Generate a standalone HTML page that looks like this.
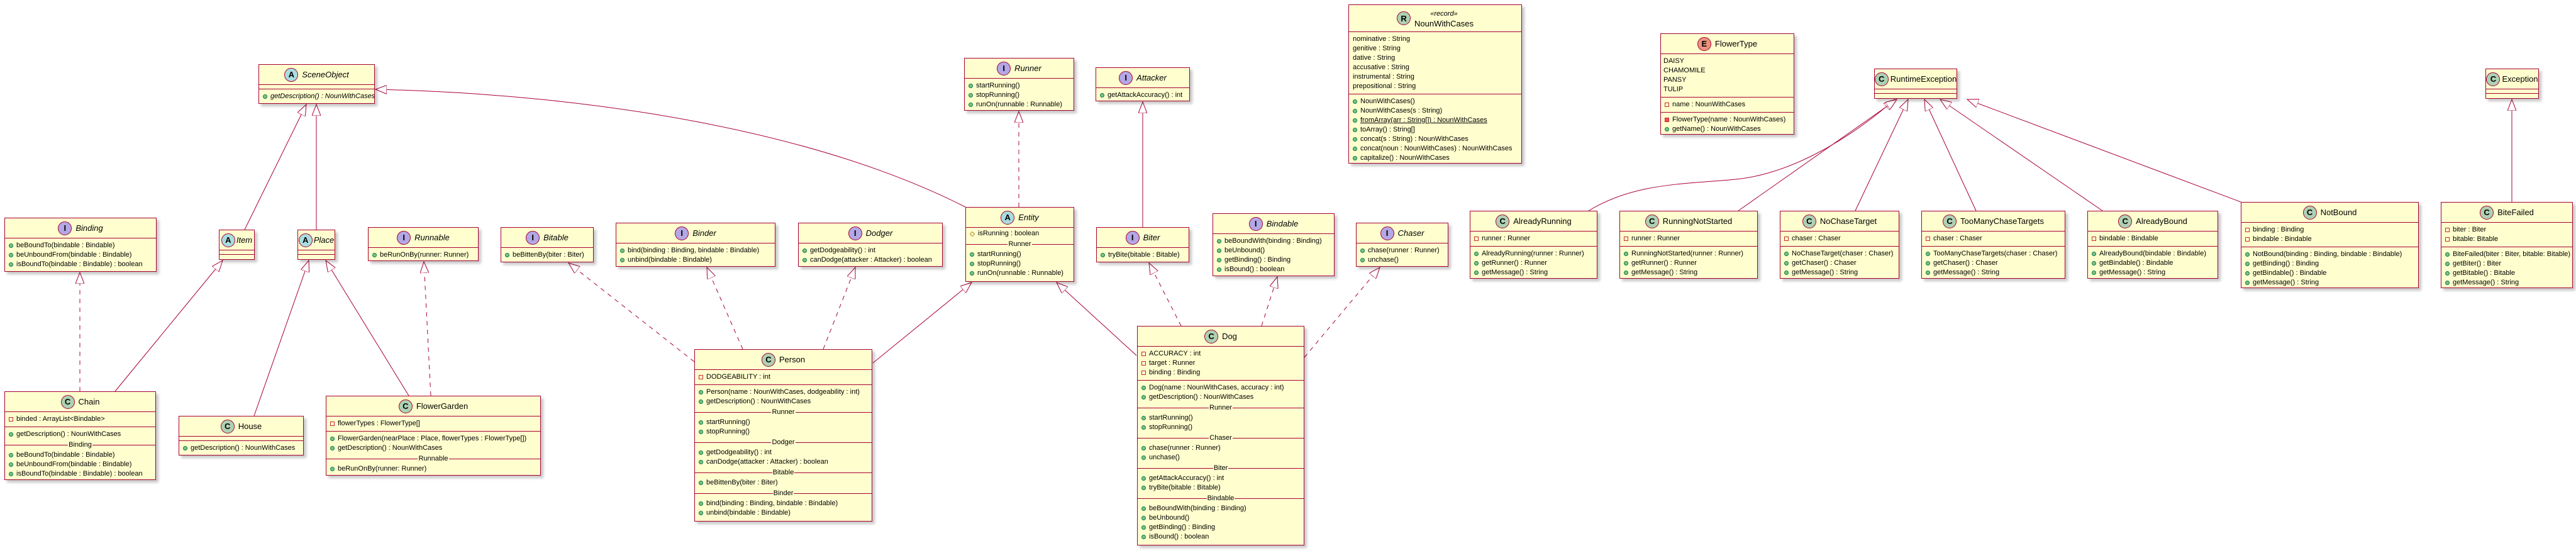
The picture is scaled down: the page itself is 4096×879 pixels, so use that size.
<!DOCTYPE html>
<html><head><meta charset="utf-8">
<style>
html,body{margin:0;padding:0;background:#fff;}
body{width:4096px;height:879px;position:relative;overflow:hidden;font-family:"Liberation Sans",sans-serif;color:#000;}
svg.lines{position:absolute;left:0;top:0;}
.b{position:absolute;background:#FEFECE;border:1.5px solid #A80036;box-sizing:border-box;box-shadow:4px 4px 4px rgba(0,0,0,.22);overflow:hidden;}
.h{height:31px;display:flex;align-items:center;justify-content:center;border-bottom:1.5px solid #A80036;font-size:13px;white-space:nowrap;}
.h .n{margin-left:6px;}
.h .it{font-style:italic;}
.ic{width:20px;height:20px;border-radius:50%;border:1px solid #A80036;display:inline-flex;align-items:center;justify-content:center;font-weight:bold;font-size:13px;flex:none;}
.C{background:#ADD1B2}.A{background:#A9DCDF}.I{background:#B4A7E5}.E{background:#EB937F}.R{background:#ADD1B2}
.s{padding:4px 0;border-bottom:1.5px solid #A80036;}
.s:last-child{border-bottom:none;}
.e{height:6px;padding:0;}
.r{height:15px;line-height:15px;padding-left:6px;white-space:nowrap;font-size:11px;display:flex;align-items:center;}
.r.np{padding-left:6px;}
.pub,.pri,.prim,.pro{display:inline-block;flex:none;margin-right:5px;box-sizing:border-box;}
.pub{width:7px;height:7px;border-radius:50%;background:#84BE84;border:1px solid #038048;}
.pri{width:7px;height:7px;border:1px solid #C82930;}
.prim{width:7px;height:7px;border:1px solid #C82930;background:#F24D5C;}
.pro{width:6px;height:6px;border:1px solid #B38D22;transform:rotate(45deg);margin-left:1px;margin-right:6px;}
.sep{height:18px;position:relative;text-align:center;font-size:11px;line-height:18px;}
.sep:before{content:"";position:absolute;left:0;right:0;top:9px;border-top:1.5px solid #A80036;}
.sep span{position:relative;background:#FEFECE;padding:0 1px;}
.u{text-decoration:underline;}
.i{font-style:italic;}
</style></head><body>

<svg class="lines" width="4096" height="879" viewBox="0 0 4096 879">
<defs>
<marker id="t" markerUnits="userSpaceOnUse" markerWidth="20" markerHeight="14" refX="18" refY="7" orient="auto">
<path d="M0,0 L18,7 L0,14 Z" fill="#fff" stroke="#A80036" stroke-width="1"/>
</marker>
</defs>
<g fill="none" stroke="#A80036" stroke-width="1" marker-end="url(#t)">
<line x1="389" y1="365" x2="487" y2="166"/>
<line x1="503" y1="365" x2="503" y2="166"/>
<path d="M1535,329 C1300,210 950,150 597,142"/>
<line x1="127" y1="622" x2="127" y2="433" stroke-dasharray="7,7"/>
<line x1="183" y1="622" x2="354" y2="414"/>
<line x1="404" y1="661" x2="491" y2="414"/>
<line x1="650" y1="629" x2="518" y2="414"/>
<line x1="685" y1="629" x2="674" y2="416" stroke-dasharray="7,7"/>
<line x1="1104" y1="575" x2="904" y2="418" stroke-dasharray="7,7"/>
<line x1="1181" y1="555" x2="1124" y2="425" stroke-dasharray="7,7"/>
<line x1="1309" y1="555" x2="1360" y2="425" stroke-dasharray="7,7"/>
<line x1="1388" y1="577" x2="1545" y2="449"/>
<line x1="1807" y1="565" x2="1680" y2="449"/>
<line x1="1620" y1="329" x2="1620" y2="177" stroke-dasharray="7,7"/>
<line x1="1817" y1="361" x2="1817" y2="162"/>
<line x1="1878" y1="518" x2="1827" y2="418" stroke-dasharray="7,7"/>
<line x1="2006" y1="518" x2="2031" y2="440" stroke-dasharray="7,7"/>
<line x1="2074" y1="568" x2="2194" y2="425" stroke-dasharray="7,7"/>
<path d="M2526,335 C2600,290 2680,293 2760,285 S2930,230 3013,158"/>
<line x1="2764" y1="335" x2="3016" y2="158"/>
<line x1="2950" y1="335" x2="3034" y2="158"/>
<line x1="3142" y1="335" x2="3060" y2="158"/>
<line x1="3343" y1="335" x2="3085" y2="158"/>
<line x1="3563" y1="321" x2="3128" y2="158"/>
<line x1="3994" y1="321" x2="3994" y2="158"/>
</g>
</svg>

<!-- SceneObject -->
<div class="b" style="left:411px;top:102px;width:185px;height:63px">
<div class="h"><span class="ic A">A</span><span class="n it">SceneObject</span></div>
<div class="s e"></div>
<div class="s"><div class="r i"><i class="pub"></i>getDescription() : NounWithCases</div></div>
</div>

<!-- Binding -->
<div class="b" style="left:7px;top:346px;width:242px;height:86px">
<div class="h"><span class="ic I">I</span><span class="n it">Binding</span></div>
<div class="s">
<div class="r"><i class="pub"></i>beBoundTo(bindable : Bindable)</div>
<div class="r"><i class="pub"></i>beUnboundFrom(bindable : Bindable)</div>
<div class="r"><i class="pub"></i>isBoundTo(bindable : Bindable) : boolean</div>
</div></div>

<!-- Item -->
<div class="b" style="left:348px;top:365px;width:57px;height:48px">
<div class="h"><span class="ic A">A</span><span class="n it" style="margin-left:2px">Item</span></div>
<div class="s e"></div><div class="s e"></div>
</div>
<!-- Place -->
<div class="b" style="left:473px;top:365px;width:60px;height:48px">
<div class="h"><span class="ic A">A</span><span class="n it" style="margin-left:2px">Place</span></div>
<div class="s e"></div><div class="s e"></div>
</div>

<!-- Runnable -->
<div class="b" style="left:585px;top:361px;width:176px;height:54px">
<div class="h"><span class="ic I">I</span><span class="n it">Runnable</span></div>
<div class="s"><div class="r"><i class="pub"></i>beRunOnBy(runner: Runner)</div></div>
</div>
<!-- Bitable -->
<div class="b" style="left:796px;top:361px;width:148px;height:56px">
<div class="h"><span class="ic I">I</span><span class="n it">Bitable</span></div>
<div class="s"><div class="r"><i class="pub"></i>beBittenBy(biter : Biter)</div></div>
</div>
<!-- Binder -->
<div class="b" style="left:979px;top:354px;width:254px;height:70px">
<div class="h"><span class="ic I">I</span><span class="n it">Binder</span></div>
<div class="s"><div class="r"><i class="pub"></i>bind(binding : Binding, bindable : Bindable)</div>
<div class="r"><i class="pub"></i>unbind(bindable : Bindable)</div></div>
</div>
<!-- Dodger -->
<div class="b" style="left:1269px;top:354px;width:230px;height:70px">
<div class="h"><span class="ic I">I</span><span class="n it">Dodger</span></div>
<div class="s"><div class="r"><i class="pub"></i>getDodgeability() : int</div>
<div class="r"><i class="pub"></i>canDodge(attacker : Attacker) : boolean</div></div>
</div>

<!-- Runner -->
<div class="b" style="left:1533px;top:92px;width:175px;height:84px">
<div class="h"><span class="ic I">I</span><span class="n it">Runner</span></div>
<div class="s"><div class="r"><i class="pub"></i>startRunning()</div>
<div class="r"><i class="pub"></i>stopRunning()</div>
<div class="r"><i class="pub"></i>runOn(runnable : Runnable)</div></div>
</div>
<!-- Attacker -->
<div class="b" style="left:1742px;top:107px;width:150px;height:54px">
<div class="h"><span class="ic I">I</span><span class="n it">Attacker</span></div>
<div class="s"><div class="r"><i class="pub"></i>getAttackAccuracy() : int</div></div>
</div>
<!-- Entity -->
<div class="b" style="left:1535px;top:329px;width:173px;height:119px">
<div class="h"><span class="ic A">A</span><span class="n it">Entity</span></div>
<div class="s" style="padding-top:2px">
<div class="r"><i class="pro"></i>isRunning : boolean</div>
<div class="sep"><span>Runner</span></div>
<div class="r"><i class="pub"></i>startRunning()</div>
<div class="r"><i class="pub"></i>stopRunning()</div>
<div class="r"><i class="pub"></i>runOn(runnable : Runnable)</div></div>
</div>
<!-- Biter -->
<div class="b" style="left:1743px;top:361px;width:148px;height:56px">
<div class="h"><span class="ic I">I</span><span class="n it">Biter</span></div>
<div class="s"><div class="r"><i class="pub"></i>tryBite(bitable : Bitable)</div></div>
</div>
<!-- Bindable -->
<div class="b" style="left:1928px;top:339px;width:194px;height:100px">
<div class="h"><span class="ic I">I</span><span class="n it">Bindable</span></div>
<div class="s"><div class="r"><i class="pub"></i>beBoundWith(binding : Binding)</div>
<div class="r"><i class="pub"></i>beUnbound()</div>
<div class="r"><i class="pub"></i>getBinding() : Binding</div>
<div class="r"><i class="pub"></i>isBound() : boolean</div></div>
</div>
<!-- Chaser -->
<div class="b" style="left:2156px;top:354px;width:147px;height:70px">
<div class="h"><span class="ic I">I</span><span class="n it">Chaser</span></div>
<div class="s"><div class="r"><i class="pub"></i>chase(runner : Runner)</div>
<div class="r"><i class="pub"></i>unchase()</div></div>
</div>

<!-- NounWithCases -->
<div class="b" style="left:2144px;top:7px;width:276px;height:253px">
<div class="h" style="height:42px"><span class="ic R">R</span><span class="n" style="text-align:center;line-height:15px"><span class="i" style="font-size:11px">«record»</span><br>NounWithCases</span></div>
<div class="s">
<div class="r">nominative : String</div>
<div class="r">genitive : String</div>
<div class="r">dative : String</div>
<div class="r">accusative : String</div>
<div class="r">instrumental : String</div>
<div class="r">prepositional : String</div></div>
<div class="s">
<div class="r"><i class="pub"></i>NounWithCases()</div>
<div class="r"><i class="pub"></i>NounWithCases(s : String)</div>
<div class="r"><i class="pub"></i><span class="u">fromArray(arr : String[]) : NounWithCases</span></div>
<div class="r"><i class="pub"></i>toArray() : String[]</div>
<div class="r"><i class="pub"></i>concat(s : String) : NounWithCases</div>
<div class="r"><i class="pub"></i>concat(noun : NounWithCases) : NounWithCases</div>
<div class="r"><i class="pub"></i>capitalize() : NounWithCases</div></div>
</div>

<!-- FlowerType -->
<div class="b" style="left:2640px;top:53px;width:213px;height:161px">
<div class="h"><span class="ic E">E</span><span class="n">FlowerType</span></div>
<div class="s"><div class="r" style="padding-left:4px">DAISY</div><div class="r" style="padding-left:4px">CHAMOMILE</div><div class="r" style="padding-left:4px">PANSY</div><div class="r" style="padding-left:4px">TULIP</div></div>
<div class="s"><div class="r"><i class="pri"></i>name : NounWithCases</div></div>
<div class="s"><div class="r"><i class="prim"></i>FlowerType(name : NounWithCases)</div>
<div class="r"><i class="pub"></i>getName() : NounWithCases</div></div>
</div>

<!-- RuntimeException -->
<div class="b" style="left:2980px;top:109px;width:132px;height:48px">
<div class="h"><span class="ic C">C</span><span class="n" style="margin-left:3px">RuntimeException</span></div>
<div class="s e"></div><div class="s e"></div>
</div>
<!-- Exception -->
<div class="b" style="left:3952px;top:109px;width:85px;height:48px">
<div class="h"><span class="ic C">C</span><span class="n" style="margin-left:3px">Exception</span></div>
<div class="s e"></div><div class="s e"></div>
</div>

<!-- AlreadyRunning -->
<div class="b" style="left:2337px;top:335px;width:203px;height:108px">
<div class="h"><span class="ic C">C</span><span class="n">AlreadyRunning</span></div>
<div class="s"><div class="r"><i class="pri"></i>runner : Runner</div></div>
<div class="s"><div class="r"><i class="pub"></i>AlreadyRunning(runner : Runner)</div>
<div class="r"><i class="pub"></i>getRunner() : Runner</div>
<div class="r"><i class="pub"></i>getMessage() : String</div></div>
</div>
<!-- RunningNotStarted -->
<div class="b" style="left:2575px;top:335px;width:220px;height:108px">
<div class="h"><span class="ic C">C</span><span class="n">RunningNotStarted</span></div>
<div class="s"><div class="r"><i class="pri"></i>runner : Runner</div></div>
<div class="s"><div class="r"><i class="pub"></i>RunningNotStarted(runner : Runner)</div>
<div class="r"><i class="pub"></i>getRunner() : Runner</div>
<div class="r"><i class="pub"></i>getMessage() : String</div></div>
</div>
<!-- NoChaseTarget -->
<div class="b" style="left:2830px;top:335px;width:190px;height:108px">
<div class="h"><span class="ic C">C</span><span class="n">NoChaseTarget</span></div>
<div class="s"><div class="r"><i class="pri"></i>chaser : Chaser</div></div>
<div class="s"><div class="r"><i class="pub"></i>NoChaseTarget(chaser : Chaser)</div>
<div class="r"><i class="pub"></i>getChaser() : Chaser</div>
<div class="r"><i class="pub"></i>getMessage() : String</div></div>
</div>
<!-- TooManyChaseTargets -->
<div class="b" style="left:3055px;top:335px;width:229px;height:108px">
<div class="h"><span class="ic C">C</span><span class="n">TooManyChaseTargets</span></div>
<div class="s"><div class="r"><i class="pri"></i>chaser : Chaser</div></div>
<div class="s"><div class="r"><i class="pub"></i>TooManyChaseTargets(chaser : Chaser)</div>
<div class="r"><i class="pub"></i>getChaser() : Chaser</div>
<div class="r"><i class="pub"></i>getMessage() : String</div></div>
</div>
<!-- AlreadyBound -->
<div class="b" style="left:3319px;top:335px;width:208px;height:108px">
<div class="h"><span class="ic C">C</span><span class="n">AlreadyBound</span></div>
<div class="s"><div class="r"><i class="pri"></i>bindable : Bindable</div></div>
<div class="s"><div class="r"><i class="pub"></i>AlreadyBound(bindable : Bindable)</div>
<div class="r"><i class="pub"></i>getBindable() : Bindable</div>
<div class="r"><i class="pub"></i>getMessage() : String</div></div>
</div>
<!-- NotBound -->
<div class="b" style="left:3563px;top:321px;width:283px;height:137px">
<div class="h"><span class="ic C">C</span><span class="n">NotBound</span></div>
<div class="s"><div class="r"><i class="pri"></i>binding : Binding</div><div class="r"><i class="pri"></i>bindable : Bindable</div></div>
<div class="s"><div class="r"><i class="pub"></i>NotBound(binding : Binding, bindable : Bindable)</div>
<div class="r"><i class="pub"></i>getBinding() : Binding</div>
<div class="r"><i class="pub"></i>getBindable() : Bindable</div>
<div class="r"><i class="pub"></i>getMessage() : String</div></div>
</div>
<!-- BiteFailed -->
<div class="b" style="left:3881px;top:321px;width:210px;height:137px">
<div class="h"><span class="ic C">C</span><span class="n">BiteFailed</span></div>
<div class="s"><div class="r"><i class="pri"></i>biter : Biter</div><div class="r"><i class="pri"></i>bitable: Bitable</div></div>
<div class="s"><div class="r"><i class="pub"></i>BiteFailed(biter : Biter, bitable: Bitable)</div>
<div class="r"><i class="pub"></i>getBiter() : Biter</div>
<div class="r"><i class="pub"></i>getBitable() : Bitable</div>
<div class="r"><i class="pub"></i>getMessage() : String</div></div>
</div>

<!-- Person -->
<div class="b" style="left:1104px;top:555px;width:283px;height:274px">
<div class="h"><span class="ic C">C</span><span class="n">Person</span></div>
<div class="s"><div class="r"><i class="pri"></i>DODGEABILITY : int</div></div>
<div class="s">
<div class="r"><i class="pub"></i>Person(name : NounWithCases, dodgeability : int)</div>
<div class="r"><i class="pub"></i>getDescription() : NounWithCases</div>
<div class="sep"><span>Runner</span></div>
<div class="r"><i class="pub"></i>startRunning()</div>
<div class="r"><i class="pub"></i>stopRunning()</div>
<div class="sep"><span>Dodger</span></div>
<div class="r"><i class="pub"></i>getDodgeability() : int</div>
<div class="r"><i class="pub"></i>canDodge(attacker : Attacker) : boolean</div>
<div class="sep"><span>Bitable</span></div>
<div class="r"><i class="pub"></i>beBittenBy(biter : Biter)</div>
<div class="sep"><span>Binder</span></div>
<div class="r"><i class="pub"></i>bind(binding : Binding, bindable : Bindable)</div>
<div class="r"><i class="pub"></i>unbind(bindable : Bindable)</div>
</div></div>

<!-- Dog -->
<div class="b" style="left:1808px;top:518px;width:266px;height:349px">
<div class="h"><span class="ic C">C</span><span class="n">Dog</span></div>
<div class="s"><div class="r"><i class="pri"></i>ACCURACY : int</div><div class="r"><i class="pri"></i>target : Runner</div><div class="r"><i class="pri"></i>binding : Binding</div></div>
<div class="s">
<div class="r"><i class="pub"></i>Dog(name : NounWithCases, accuracy : int)</div>
<div class="r"><i class="pub"></i>getDescription() : NounWithCases</div>
<div class="sep"><span>Runner</span></div>
<div class="r"><i class="pub"></i>startRunning()</div>
<div class="r"><i class="pub"></i>stopRunning()</div>
<div class="sep"><span>Chaser</span></div>
<div class="r"><i class="pub"></i>chase(runner : Runner)</div>
<div class="r"><i class="pub"></i>unchase()</div>
<div class="sep"><span>Biter</span></div>
<div class="r"><i class="pub"></i>getAttackAccuracy() : int</div>
<div class="r"><i class="pub"></i>tryBite(bitable : Bitable)</div>
<div class="sep"><span>Bindable</span></div>
<div class="r"><i class="pub"></i>beBoundWith(binding : Binding)</div>
<div class="r"><i class="pub"></i>beUnbound()</div>
<div class="r"><i class="pub"></i>getBinding() : Binding</div>
<div class="r"><i class="pub"></i>isBound() : boolean</div>
</div></div>

<!-- Chain -->
<div class="b" style="left:7px;top:622px;width:241px;height:141px">
<div class="h"><span class="ic C">C</span><span class="n">Chain</span></div>
<div class="s"><div class="r"><i class="pri"></i>binded : ArrayList&lt;Bindable&gt;</div></div>
<div class="s">
<div class="r"><i class="pub"></i>getDescription() : NounWithCases</div>
<div class="sep"><span>Binding</span></div>
<div class="r"><i class="pub"></i>beBoundTo(bindable : Bindable)</div>
<div class="r"><i class="pub"></i>beUnboundFrom(bindable : Bindable)</div>
<div class="r"><i class="pub"></i>isBoundTo(bindable : Bindable) : boolean</div>
</div></div>

<!-- House -->
<div class="b" style="left:284px;top:661px;width:199px;height:63px">
<div class="h"><span class="ic C">C</span><span class="n">House</span></div>
<div class="s e"></div>
<div class="s"><div class="r"><i class="pub"></i>getDescription() : NounWithCases</div></div>
</div>

<!-- FlowerGarden -->
<div class="b" style="left:518px;top:629px;width:342px;height:127px">
<div class="h"><span class="ic C">C</span><span class="n">FlowerGarden</span></div>
<div class="s"><div class="r"><i class="pri"></i>flowerTypes : FlowerType[]</div></div>
<div class="s">
<div class="r"><i class="pub"></i>FlowerGarden(nearPlace : Place, flowerTypes : FlowerType[])</div>
<div class="r"><i class="pub"></i>getDescription() : NounWithCases</div>
<div class="sep"><span>Runnable</span></div>
<div class="r"><i class="pub"></i>beRunOnBy(runner: Runner)</div>
</div></div>

</body></html>
